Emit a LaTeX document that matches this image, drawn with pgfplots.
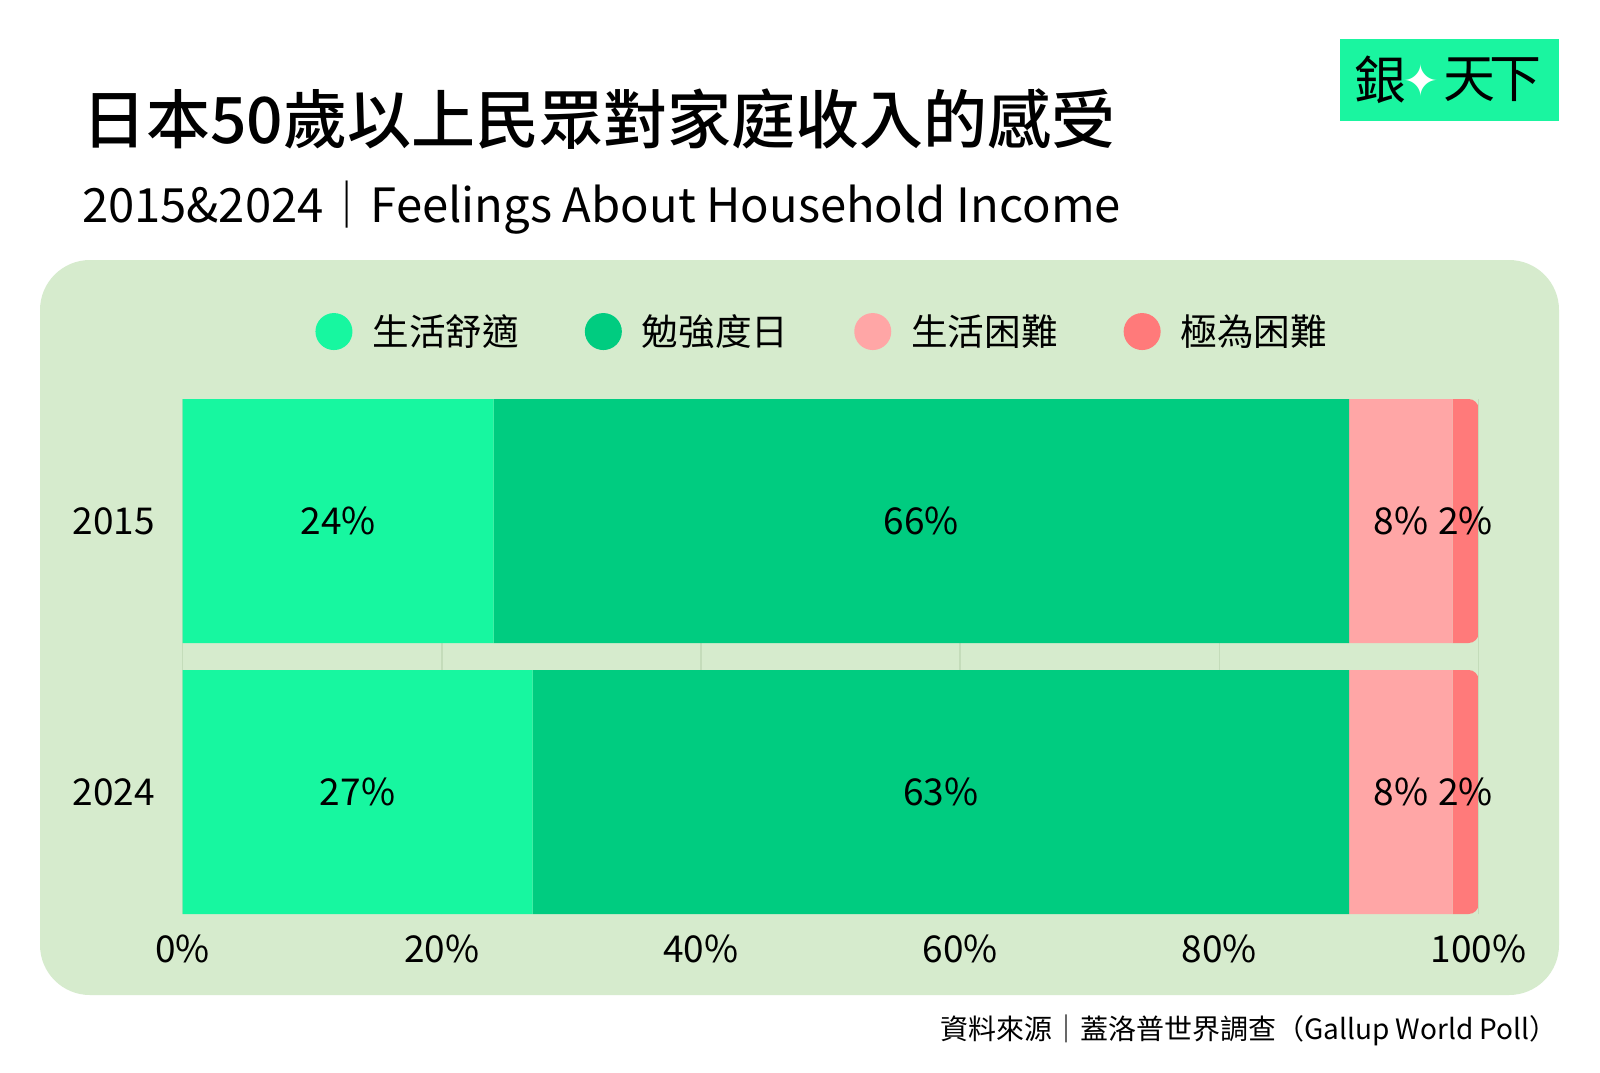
\documentclass[border=0pt]{standalone}
\usepackage{pgfplots}
\pgfplotsset{compat=1.18}
\usepackage{fontspec}
\setmainfont{Noto Sans CJK TC}
\newfontfamily\titlefont{Noto Sans CJK TC}[UprightFont=* Medium]
\newfontfamily\djv{DejaVu Sans}
\definecolor{cA}{HTML}{17F7A0}
\definecolor{cB}{HTML}{00CC80}
\definecolor{cC}{HTML}{FFA6A6}
\definecolor{cD}{HTML}{FF7A7A}
\definecolor{bgc}{HTML}{D6EBCD}
\definecolor{gridc}{HTML}{C4DCBA}
\definecolor{logoc}{HTML}{1AF5A0}
\pgfplotsset{common/.style={
  scale only axis, width=648pt, height=257.5pt,
  xmin=0, xmax=100, ymin=-0.45018, ymax=1.45018,
  at={(91.3pt,-457pt)}, anchor=south west}}
\begin{document}
\begin{tikzpicture}
\fill[white] (0,0) rectangle (800pt,-536pt);
\fill[bgc, rounded corners=25pt] (20pt,-130pt) rectangle (779.5pt,-497.5pt);
% logo
\fill[logoc] (670pt,-19.5pt) rectangle (779.5pt,-60.5pt);
\node[font=\fontsize{26}{26}\selectfont, inner sep=0pt] at (690pt,-40pt) {銀};
\node[font=\djv\fontsize{22}{22}\selectfont, text=white, inner sep=0pt] at (710.5pt,-40pt) {✦};
\node[font=\fontsize{26}{26}\selectfont, inner sep=0pt] at (734.5pt,-40pt) {天};
\node[font=\fontsize{26}{26}\selectfont, inner sep=0pt] at (757.5pt,-40pt) {下};
% titles
\node[anchor=west, inner sep=0pt, font=\titlefont\fontsize{32}{34}\selectfont] at (41pt,-59.4pt) {日本50歲以上民眾對家庭收入的感受};
\node[anchor=base west, inner sep=0pt, font=\fontsize{23.6}{26}\selectfont] at (40.8pt,-111.2pt) {2015\&2024｜Feelings About Household Income};
\node[anchor=east, inner sep=0pt, font=\fontsize{14}{16}\selectfont] at (779pt,-515.3pt) {資料來源｜蓋洛普世界調查（Gallup World Poll）};
% grid, ticks, legend
\begin{axis}[common,
  axis line style={draw=none}, tick style={draw=none},
  xtick={0,20,40,60,80,100},
  xticklabels={0\%,20\%,40\%,60\%,80\%,100\%},
  ytick={0,1}, yticklabels={2024,2015},
  xmajorgrids, grid style={draw=gridc, line width=0.8pt},
  xticklabel style={anchor=center, yshift=-17.5pt, inner sep=0pt, font=\fontsize{18.5}{20}\selectfont},
  yticklabel style={anchor=center, xshift=-34.3pt, inner sep=0pt, font=\fontsize{18.5}{20}\selectfont},
  legend style={at={(0.1022,1.131)}, anchor=west, draw=none, fill=none,
    legend columns=4, font=\fontsize{18.3}{20}\selectfont, inner sep=0pt,
    nodes={inner sep=0pt},
    /tikz/every odd column/.append style={column sep=10pt},
    /tikz/every even column/.append style={column sep=33pt}},
  legend image code/.code={\fill[#1] (9.25pt,0pt) circle (9.25pt);}
]
\addlegendimage{fill=cA, draw=none}
\addlegendentry{生活舒適}
\addlegendimage{fill=cB, draw=none}
\addlegendentry{勉強度日}
\addlegendimage{fill=cC, draw=none}
\addlegendentry{生活困難}
\addlegendimage{fill=cD, draw=none}
\addlegendentry{極為困難}
\end{axis}
% bars with rounded right ends
\begin{scope}
\clip (91.3pt,-199.5pt) rectangle (730pt,-321.5pt) (91.3pt,-335pt) rectangle (730pt,-457pt)
  [rounded corners=5pt] (700pt,-199.5pt) rectangle (739.3pt,-321.5pt) (700pt,-335pt) rectangle (739.3pt,-457pt);
\begin{axis}[common, hide axis, xbar stacked, bar width=122pt]
\addplot[fill=cA, draw=none] coordinates {(24,1) (27,0)};
\addplot[fill=cB, draw=none] coordinates {(66,1) (63,0)};
\addplot[fill=cC, draw=none] coordinates {(8,1) (8,0)};
\addplot[fill=cD, draw=none] coordinates {(2,1) (2,0)};
\end{axis}
\end{scope}
% value labels at segment centres
\begin{axis}[common, hide axis]
\addplot[draw=none, mark=none, nodes near coords, point meta=explicit symbolic,
  nodes near coords style={anchor=center, inner sep=0pt, font=\fontsize{18.5}{20}\selectfont}]
  coordinates {(12,1) [24\%] (57,1) [66\%] (94,1) [8\%] (99,1) [2\%]
               (13.5,0) [27\%] (58.5,0) [63\%] (94,0) [8\%] (99,0) [2\%]};
\end{axis}
\end{tikzpicture}
\end{document}
